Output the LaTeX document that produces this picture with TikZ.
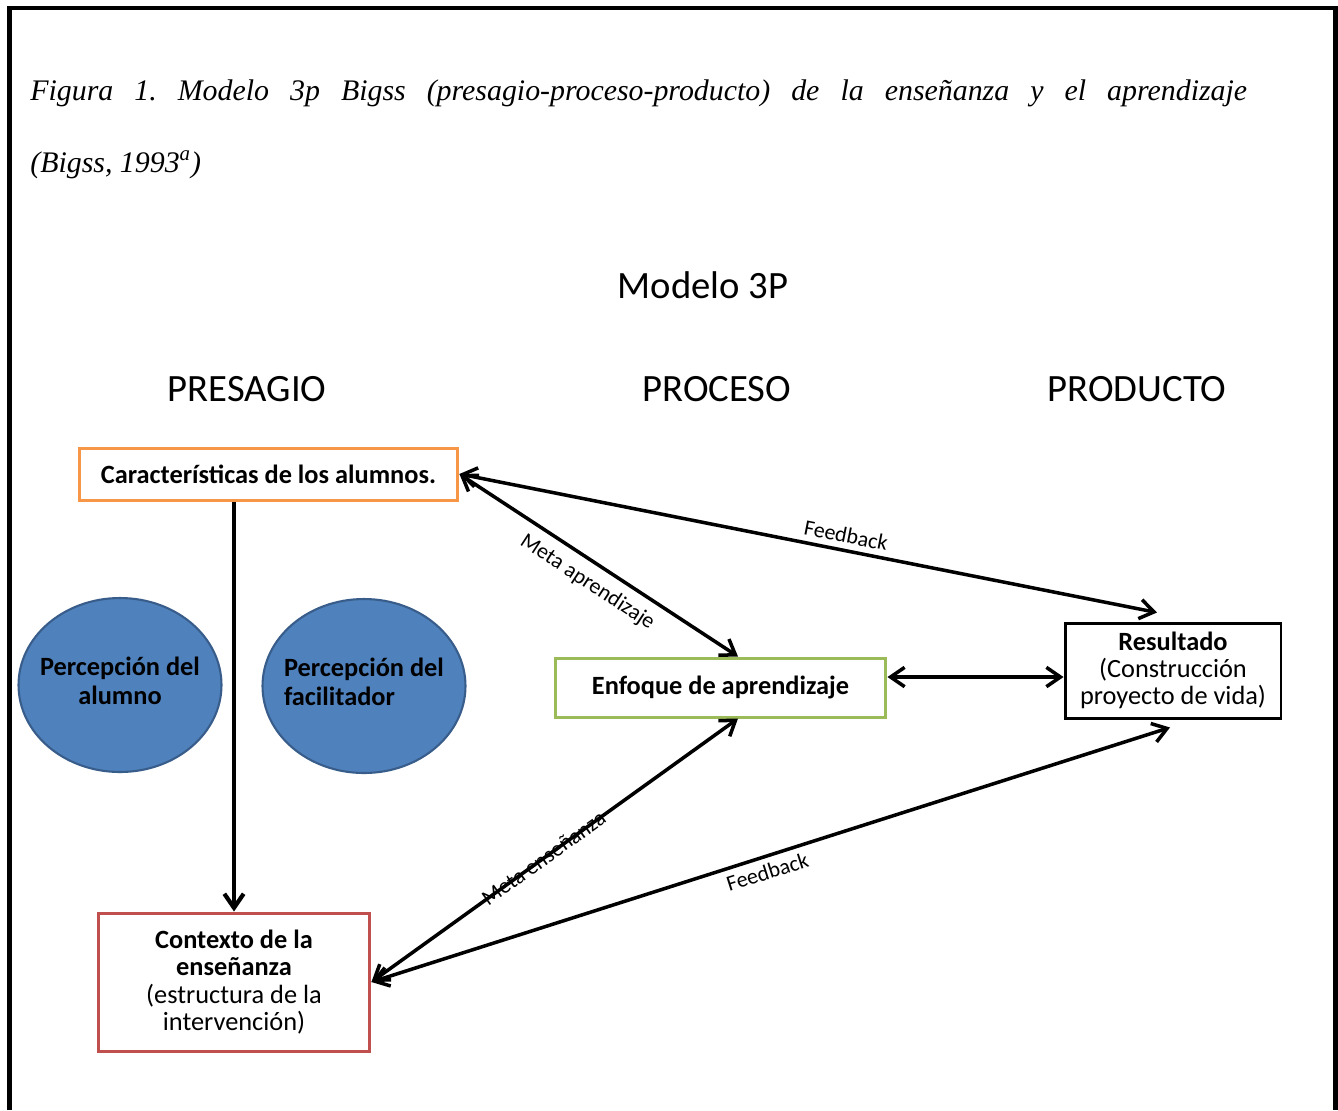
\documentclass[tikz,border=0pt]{standalone}
\usepackage{fontspec}
\setmainfont{Liberation Serif}
\newfontfamily\calib{Carlito}
\usepackage{tikz}
\usetikzlibrary{shapes.geometric,arrows.meta}
\definecolor{boxorange}{RGB}{247,150,70}
\definecolor{boxgreen}{RGB}{155,187,89}
\definecolor{boxred}{RGB}{192,80,77}
\definecolor{ovalblue}{RGB}{79,129,189}
\definecolor{ovalborder}{RGB}{56,93,138}
\tikzset{
    plain-box/.style = {draw, fill=white, line width=1.7pt, rectangle, align=center, inner sep=2pt, font=\calib\fontsize{15}{15.5}\selectfont},
    percep-oval/.style = {ellipse, draw=ovalborder, fill=ovalblue, line width=1.2pt, minimum width=4.06cm, minimum height=3.48cm, inner xsep=-6pt, inner ysep=0pt, align=center, font=\calib\bfseries\fontsize{15}{16}\selectfont},
    stage-label/.style = {font=\calib\fontsize{22}{26}\selectfont},
    link-label/.style = {font=\calib\fontsize{12.5}{14}\selectfont, sloped},
    link-arrow/.style = {line width=2pt, >={Straight Barb[length=8pt,width=11pt]}},
}
\begin{document}
\frenchspacing
\begin{tikzpicture}[x=0.02cm, y=-0.02cm]
\useasboundingbox (0,0) rectangle (1338,1110);
\draw[line width=2.3pt] (9.5,1110) -- (9.5,8) -- (1335.5,8) -- (1335.5,1110);

\node[anchor=base west, inner sep=0pt, font=\itshape\fontsize{17}{20}\selectfont] (cap1) at (30,100)
    {\makebox[24.34cm][s]{Figura 1. Modelo 3p Bigss (presagio-proceso-producto) de la enseñanza y el aprendizaje}};
\node[anchor=base west, inner sep=0pt, font=\itshape\fontsize{17}{20}\selectfont] (cap2) at (30,172)
    {(Bigss, 1993\textsuperscript{a})};

\node[stage-label] (modelo) at (703,285) {Modelo 3P};
\node[stage-label] (presagio) at (247,389) {PRESAGIO};
\node[stage-label] (proceso) at (717,389) {PROCESO};
\node[stage-label] (producto) at (1137,389) {PRODUCTO};

\node[plain-box, draw=boxorange, minimum width=7.58cm, minimum height=1.04cm] (carac) at (268.5,474) {\textbf{Características de los alumnos.}};
\node[percep-oval] (alumno) at (120,685) {Percepción del\\alumno\strut};
\node[percep-oval, align=left] (facil) at (364,686) {Percepción del\\facilitador\strut};
\node[plain-box, draw=boxgreen, minimum width=6.62cm, minimum height=1.18cm] (enf) at (720.5,687.5) {\textbf{Enfoque de aprendizaje}};
\node[plain-box, draw=black, minimum width=4.32cm, minimum height=1.9cm] (res) at (1173,670.5) {\textbf{Resultado}\\(Construcción\\proyecto de vida)};
\node[plain-box, draw=boxred, minimum width=5.44cm, minimum height=2.76cm] (ctx) at (234,982) {\textbf{Contexto de la}\\\textbf{enseñanza}\\(estructura de la\\intervención)};

\draw[link-arrow, line width=2.4pt, ->] (carac.south -| ctx.north) -- (ctx.north);
\draw[link-arrow, <->] (carac.east) -- node[link-label, above, pos=0.55] {Feedback} ([xshift=-0.32cm, yshift=0.18cm]res.north);
\draw[link-arrow, <->] (carac.east) -- node[link-label, below=2pt, pos=0.5] {Meta aprendizaje} ([xshift=0.35cm]enf.north);
\draw[link-arrow, <->] ([yshift=0.21cm]enf.east) -- ([yshift=0.21cm]enf.east -| res.west);
\draw[link-arrow, <->] ([xshift=0.35cm]enf.south) -- node[link-label, pos=0.53] {Meta enseñanza} (ctx.east);
\draw[link-arrow, <->] (ctx.east) -- node[link-label, below, pos=0.49] {Feedback} ([xshift=-0.06cm, yshift=-0.16cm]res.south);
\end{tikzpicture}
\end{document}
